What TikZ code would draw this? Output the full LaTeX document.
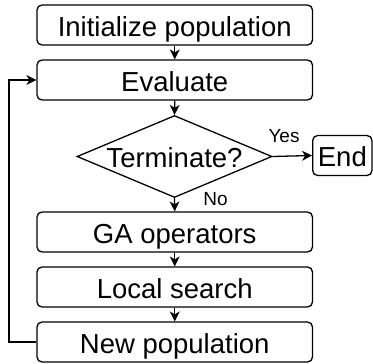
\documentclass[tikz,border=0pt]{standalone}
\usepackage{fontspec}
\setmainfont{Liberation Sans}
\usetikzlibrary{shapes.geometric,arrows.meta}
\tikzset{
  box/.style={draw, line width=1.3pt, rounded corners=5pt, minimum width=275.5pt, minimum height=40pt, inner sep=0pt, text height=22pt, text depth=0pt, font=\fontsize{27.5}{27.5}\selectfont},
  endbox/.style={box, minimum width=59.3pt},
  decision/.style={diamond, draw, line width=1.3pt, minimum width=195pt, minimum height=82pt, inner sep=0pt, text height=22pt, text depth=0pt, font=\fontsize{27.5}{27.5}\selectfont},
  tipstyle/.tip={Stealth[length=10pt,width=10pt,inset=3pt,line width=0pt]},
  conn/.style={line width=1.3pt, arrows={-tipstyle}},
  lbl/.style={anchor=base, inner sep=0pt, font=\fontsize{19}{19}\selectfont}
}
\begin{document}
\begin{tikzpicture}
\useasboundingbox (0pt,0pt) rectangle (373pt,-364pt);
\node[box] (init) at (174.75pt,-25pt) {Initialize population};
\node[box] (eval) at (174.75pt,-80pt) {Evaluate};
\node[decision] (term) at (174.5pt,-156.5pt) {\makebox[0pt]{Terminate?}};
\node[endbox] (end) at (342.35pt,-155.5pt) {End};
\node[box] (ga) at (174.75pt,-232pt) {GA operators};
\node[box] (ls) at (174.75pt,-287pt) {Local search};
\node[box] (np) at (174.75pt,-342pt) {New population};
\coordinate (lb) at (9pt,-342pt);
\coordinate (lt) at (9pt,-80pt);
\draw[conn] (init.south) -- (eval.north);
\draw[conn] (eval.south) -- (term.north);
\draw[conn] (term.east) -- (end.west);
\draw[conn] (term.south) -- (ga.north);
\draw[conn] (ga.south) -- (ls.north);
\draw[conn] (ls.south) -- (np.north);
\draw[conn] (np.west) -- (lb) -- (lt) -- (eval.west);
\node[lbl] (yes) at (284pt,-142pt) {Yes};
\node[lbl] (no) at (215.5pt,-205pt) {No};
\end{tikzpicture}
\end{document}
